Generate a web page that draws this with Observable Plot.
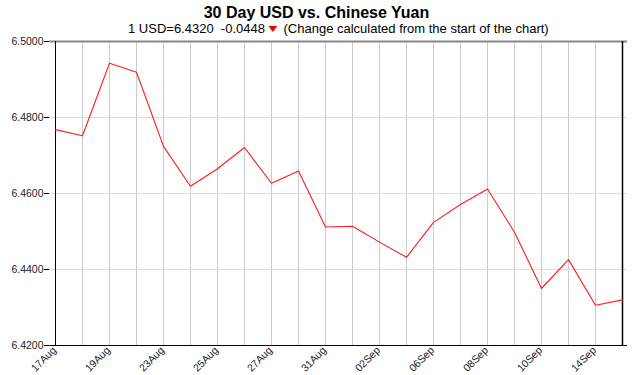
<!DOCTYPE html>
<html><head><meta charset="utf-8">
<script src="https://cdn.jsdelivr.net/npm/d3@7"></script>
<script src="https://cdn.jsdelivr.net/npm/@observablehq/plot@0.6"></script>
<style>
html,body{margin:0;padding:0;background:#fff;}
body{font-family:"Liberation Sans",Arial,sans-serif;color:#000;}
#wrap{width:633px;height:375px;position:relative;}
#head{position:absolute;left:0;top:0;width:633px;height:38px;z-index:2;}
#title{position:absolute;left:0;width:633px;top:4px;text-align:center;font-weight:bold;font-size:16px;line-height:18px;}
#sub{position:absolute;left:128px;top:21px;font-size:13px;line-height:15px;white-space:pre;}
#sub .tri{display:inline-block;color:#e00;font-size:10px;font-family:"DejaVu Sans",sans-serif;transform:scaleX(1.15) scaleY(0.8);vertical-align:1px;}
svg{display:block;}
</style></head>
<body>
<div id="wrap">
  <div id="chart"></div>
  <div id="head"><div id="title"></div><div id="sub"></div></div>
</div>
<script>
const chartTitle = "30 Day USD vs. Chinese Yuan";
const dates = ["17Aug","18Aug","19Aug","20Aug","23Aug","24Aug","25Aug","26Aug","27Aug","30Aug","31Aug",
  "01Sep","02Sep","03Sep","06Sep","07Sep","08Sep","09Sep","10Sep","13Sep","14Sep","15Sep"];
const rates = [6.4768,6.4752,6.4943,6.4919,6.4724,6.4619,6.4665,6.4721,6.4627,6.4659,6.4512,
  6.4514,6.4472,6.4432,6.4524,6.4571,6.4612,6.4498,6.4350,6.4426,6.4306,6.4320];
const tickLabels = ["17Aug","19Aug","23Aug","25Aug","27Aug","31Aug","02Sep","06Sep","08Sep","10Sep","14Sep"];
const yTicks = [6.42,6.44,6.46,6.48,6.50];
const yGrid = [6.44,6.46,6.48];

const last = rates[rates.length-1];
const change = last - rates[0];
document.getElementById("title").textContent = chartTitle;
document.getElementById("sub").innerHTML =
  "1 USD=" + last.toFixed(4) + "  " + change.toFixed(4) + " <span class='tri'>\u25BC</span>  (Change calculated from the start of the chart)";

const data = dates.map((d,i)=>({date:d, rate:rates[i]}));
const font = "Liberation Sans, Arial, sans-serif";

const chart = Plot.plot({
  width: 633,
  height: 375,
  marginTop: 41,
  marginBottom: 30,
  marginLeft: 49,
  marginRight: 6,
  style: {fontFamily: font, background: "#fff", color: "#222"},
  x: {type: "point", domain: dates, padding: 0},
  y: {domain: [6.42, 6.50]},
  marks: [
    Plot.ruleX(dates, {stroke: "#cccccc", strokeWidth: 1}),
    Plot.ruleY(yGrid, {stroke: "#dddddd", strokeWidth: 1}),
    Plot.ruleY([6.50], {stroke: "#888888", strokeWidth: 2}),
    Plot.ruleX([dates[dates.length-1]], {stroke: "#000", strokeWidth: 1.5}),
    Plot.ruleX([dates[0]], {stroke: "#000", strokeWidth: 1}),
    Plot.ruleY([6.42], {stroke: "#000", strokeWidth: 1}),
    Plot.line(data, {x: "date", y: "rate", stroke: "#ff1a1a", strokeWidth: 1.1}),
    Plot.axisY(yTicks, {tickFormat: d => d.toFixed(4), tickSize: 5, tickPadding: 1, fontSize: 10.5, stroke: "#000", fill: "#222", label: null}),
    Plot.axisX(tickLabels, {tickRotate: -45, tickSize: 0, tickPadding: 3, dx: -1, fontSize: 10.5, fill: "#222", label: null})
  ]
});
document.getElementById("chart").appendChild(chart);
</script>
</body></html>
